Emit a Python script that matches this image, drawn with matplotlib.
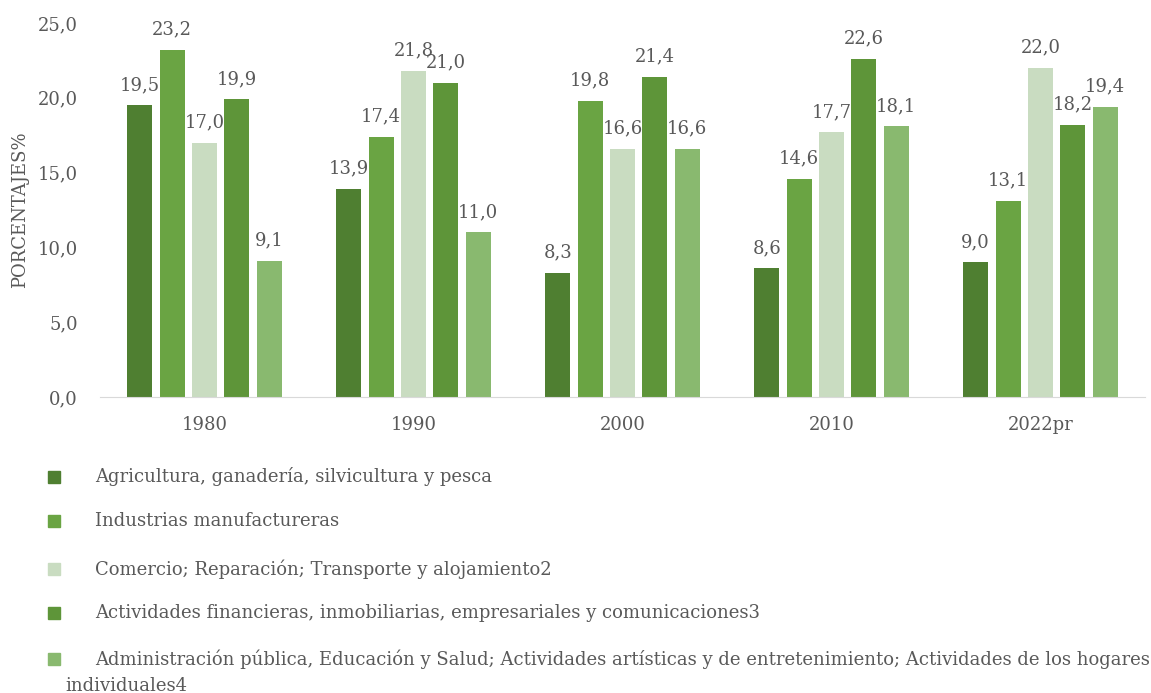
import numpy as np
import matplotlib.pyplot as plt
from matplotlib.patches import Rectangle

plt.rcParams['font.family'] = ['DejaVu Serif']

# Data
years = ['1980', '1990', '2000', '2010', '2022pr']
series_names = [
    'Agricultura, ganadería, silvicultura y pesca',
    'Industrias manufactureras',
    'Comercio; Reparación; Transporte y alojamiento2',
    'Actividades financieras, inmobiliarias, empresariales y comunicaciones3',
    'Administración pública, Educación y Salud; Actividades artísticas y de entretenimiento; Actividades de los hogares',
]
agricultura = [19.5, 13.9, 8.3, 8.6, 9.0]
industrias = [23.2, 17.4, 19.8, 14.6, 13.1]
comercio = [17.0, 21.8, 16.6, 17.7, 22.0]
financieras = [19.9, 21.0, 21.4, 22.6, 18.2]
administracion = [9.1, 11.0, 16.6, 18.1, 19.4]
series = [agricultura, industrias, comercio, financieras, administracion]
colors = ['#4f7f31', '#6aa443', '#c9dcc1', '#5e9539', '#89b96f']

txt = '#595959'
fs = 13

fig = plt.figure(figsize=(11.51, 6.93), dpi=100)
ax = fig.add_axes([100 / 1151, 1 - 397 / 693, 1045 / 1151, 374 / 693])

x = np.arange(len(years))
pitch = 0.155
width = 0.12
for i, (vals, col) in enumerate(zip(series, colors)):
    pos = x + (i - 2) * pitch
    ax.bar(pos, vals, width, color=col, zorder=2)
    for px, v in zip(pos, vals):
        ax.text(px, v + 0.75, f'{v:.1f}'.replace('.', ','), ha='center', va='bottom',
                fontsize=fs, color=txt)

ax.set_xlim(-0.5, 4.5)
ax.set_ylim(0, 25)
ax.set_yticks(np.arange(0, 26, 5))
ax.set_yticklabels([f'{t:.1f}'.replace('.', ',') for t in np.arange(0, 26, 5)])
ax.set_xticks(x)
ax.set_xticklabels(years)
ax.tick_params(length=0, labelsize=fs, colors=txt)
ax.tick_params(axis='x', pad=14)
ax.tick_params(axis='y', pad=16)
for s in ['top', 'right', 'left']:
    ax.spines[s].set_visible(False)
ax.spines['bottom'].set_color('#d9d9d9')
ax.set_ylabel('PORCENTAJES%', fontsize=fs, color=txt)
ax.yaxis.set_label_coords(-0.068, 0.5)

# Legend drawn manually, one entry per line
rows_y = [477, 521, 569, 613, 659]
for name, col, ry in zip(series_names, colors, rows_y):
    fig.patches.append(Rectangle((48 / 1151, 1 - (ry + 6) / 693), 12 / 1151, 12 / 693,
                                 transform=fig.transFigure, color=col))
    fig.text(95 / 1151, 1 - ry / 693, name, fontsize=fs, color=txt, va='center')
fig.text(65 / 1151, 1 - 686 / 693, 'individuales4', fontsize=fs, color=txt, va='center')

fig.savefig('out.png', dpi=100)
